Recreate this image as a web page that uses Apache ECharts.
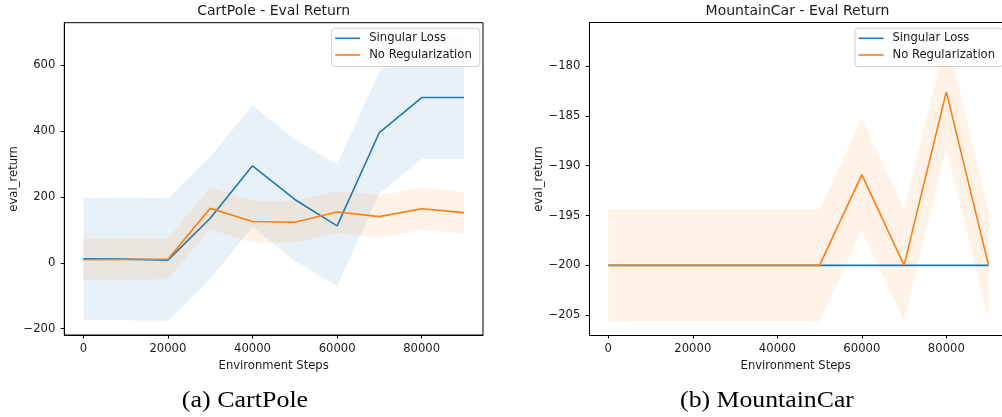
<!DOCTYPE html>
<html>
<head>
<meta charset="utf-8">
<script src="https://cdn.jsdelivr.net/npm/echarts@6/dist/echarts.min.js"></script>
<style>
html,body{margin:0;padding:0;background:#fff;}
#chart{width:1002px;height:417px;}
</style>
</head>
<body>
<div id="chart"></div>
<script>
// ---------- data ----------
const steps = [0, 10000, 20000, 30000, 40000, 50000, 60000, 70000, 80000, 90000];
const xTickValues = [0, 20000, 40000, 60000, 80000];

// CartPole
const cpSingularMean = [12, 11, 8, 135, 294, 192, 112, 395, 501, 501];
const cpSingularLow  = [-173, -174, -176, -49, 109, 6, -71, 210, 315, 315];
const cpSingularHigh = [198, 197, 195, 321, 478, 374, 299, 579, 687, 687];
const cpNoRegMean = [9, 10, 11, 165, 125, 123, 154, 140, 164, 152];
const cpNoRegLow  = [-52, -51, -50, 101, 62, 61, 91, 77, 101, 89];
const cpNoRegHigh = [72, 73, 74, 228, 188, 187, 217, 205, 227, 215];
const cpYTicks = [-200, 0, 200, 400, 600];

// MountainCar
const mcSingularMean = [-200, -200, -200, -200, -200, -200, -200, -200, -200, -200];
const mcNoRegMean = [-200, -200, -200, -200, -200, -200, -190.9, -200, -182.6, -200];
const mcNoRegLow  = [-205.6, -205.6, -205.6, -205.6, -205.6, -205.6, -196.5, -205.6, -188.2, -205.6];
const mcNoRegHigh = [-194.4, -194.4, -194.4, -194.4, -194.4, -194.4, -185.3, -194.4, -177.0, -194.4];
const mcYTicks = [-205, -200, -195, -190, -185, -180];

const seriesNames = ['Singular Loss', 'No Regularization'];
const titles = ['CartPole - Eval Return', 'MountainCar - Eval Return'];
const captions = ['(a) CartPole', '(b) MountainCar'];

// ---------- styles ----------
const BLUE = '#1f77b4', ORANGE = '#ff7f0e';
const FONT = 'DejaVu Sans';
const TXT = '#1a1a1a';
const FS = 11.6;

function pairs(ys) { return steps.map((x, i) => [x, ys[i]]); }

function band(idx, lo, hi, fill) {
  return {
    type: 'custom', xAxisIndex: idx, yAxisIndex: idx, silent: true, z: 1,
    data: steps.map((x, i) => [x, lo[i], hi[i]]),
    encode: { x: 0, y: [1, 2] },
    renderItem: function (params, api) {
      if (params.dataIndex !== 0) return null;
      const top = steps.map((x, i) => api.coord([x, hi[i]]));
      const bot = steps.map((x, i) => api.coord([x, lo[i]])).reverse();
      return { type: 'polygon', shape: { points: top.concat(bot) }, style: { fill: fill } };
    }
  };
}
function meanLine(idx, name, ys, color, z) {
  return { type: 'line', name: name, xAxisIndex: idx, yAxisIndex: idx, data: pairs(ys),
    symbol: 'none', itemStyle: { color: color }, lineStyle: { color: color, width: 1.6 }, z: z };
}

function fmtNum(v) { return String(v).replace('-', '\u2212'); }

function xAxis(idx, max) {
  return {
    type: 'value', gridIndex: idx, min: -4500, max: max,
    splitLine: { show: false },
    axisLine: { show: true, onZero: false, lineStyle: { color: '#000', width: 1 } },
    axisTick: { show: true, customValues: xTickValues, length: 3.5, lineStyle: { color: '#000', width: 1 } },
    axisLabel: { customValues: xTickValues, margin: 8, fontSize: FS, fontFamily: FONT, color: TXT, formatter: fmtNum },
    name: 'Environment Steps', nameLocation: 'middle', nameGap: 24,
    nameTextStyle: { fontSize: FS, fontFamily: FONT, color: TXT }
  };
}
function topAxis(idx, max) {
  return {
    type: 'value', gridIndex: idx, position: 'top', min: -4500, max: max,
    splitLine: { show: false }, axisTick: { show: false }, axisLabel: { show: false },
    axisLine: { show: true, onZero: false, lineStyle: { color: '#000', width: 1 } }
  };
}
function yAxis(idx, min, max, ticks) {
  return {
    type: 'value', gridIndex: idx, min: min, max: max,
    splitLine: { show: false },
    axisLine: { show: true, onZero: false, lineStyle: { color: '#000', width: 1 } },
    axisTick: { show: true, customValues: ticks, length: 3.5, lineStyle: { color: '#000', width: 1 } },
    axisLabel: { customValues: ticks, margin: 9, fontSize: FS, fontFamily: FONT, color: TXT, formatter: fmtNum },
    name: 'eval_return', nameLocation: 'middle', nameGap: 44,
    nameTextStyle: { fontSize: FS, fontFamily: FONT, color: TXT }
  };
}
function legend(left) {
  return {
    data: seriesNames, orient: 'vertical', left: left, top: 28.3,
    icon: 'rect', itemWidth: 25, itemHeight: 1.6, itemGap: 2.7,
    padding: [3, 8, 4.5, 3.5],
    backgroundColor: 'rgba(255,255,255,0.8)', borderColor: '#d0d0d0', borderWidth: 1, borderRadius: 3,
    selectedMode: false,
    textStyle: { fontSize: FS, fontFamily: FONT, color: TXT, lineHeight: 14, padding: [0, 0, 0, 4] }
  };
}

const chart = echarts.init(document.getElementById('chart'), null, { renderer: 'canvas' });
chart.setOption({
  animation: false,
  backgroundColor: '#fff',
  title: [
    { text: titles[0], left: 273.7, top: 4, textAlign: 'center', padding: 0,
      textStyle: { fontSize: 14, fontWeight: 'normal', fontFamily: FONT, color: TXT } },
    { text: titles[1], left: 797.5, top: 4, textAlign: 'center', padding: 0,
      textStyle: { fontSize: 14, fontWeight: 'normal', fontFamily: FONT, color: TXT } }
  ],
  grid: [
    { left: 64.3, top: 22.7, width: 418.7, height: 312.3, show: true, borderColor: '#000', borderWidth: 1, backgroundColor: 'transparent', containLabel: false },
    { left: 589.3, top: 22.7, width: 412.7, height: 312.3, show: false, containLabel: false }
  ],
  xAxis: [xAxis(0, 94500), xAxis(1, 93180), topAxis(1, 93180)],
  yAxis: [yAxis(0, -219, 728, cpYTicks), yAxis(1, -206.98, -175.66, mcYTicks)],
  legend: [legend(331.7), legend(855)],
  series: [
    band(0, cpSingularLow, cpSingularHigh, 'rgba(31,119,180,0.1)'),
    band(0, cpNoRegLow, cpNoRegHigh, 'rgba(255,127,14,0.1)'),
    meanLine(0, seriesNames[0], cpSingularMean, BLUE, 3),
    meanLine(0, seriesNames[1], cpNoRegMean, ORANGE, 4),
    band(1, mcNoRegLow, mcNoRegHigh, 'rgba(255,127,14,0.1)'),
    meanLine(1, seriesNames[0], mcSingularMean, BLUE, 3),
    meanLine(1, seriesNames[1], mcNoRegMean, ORANGE, 4)
  ],
  graphic: [
    { type: 'text', x: 245, y: 401, scaleX: 1.13,
      style: { text: captions[0], fontSize: 23, fontFamily: 'Liberation Serif', align: 'center', verticalAlign: 'middle', fill: '#000' } },
    { type: 'text', x: 767, y: 401, scaleX: 1.12,
      style: { text: captions[1], fontSize: 23, fontFamily: 'Liberation Serif', align: 'center', verticalAlign: 'middle', fill: '#000' } }
  ]
});
</script>
</body>
</html>
